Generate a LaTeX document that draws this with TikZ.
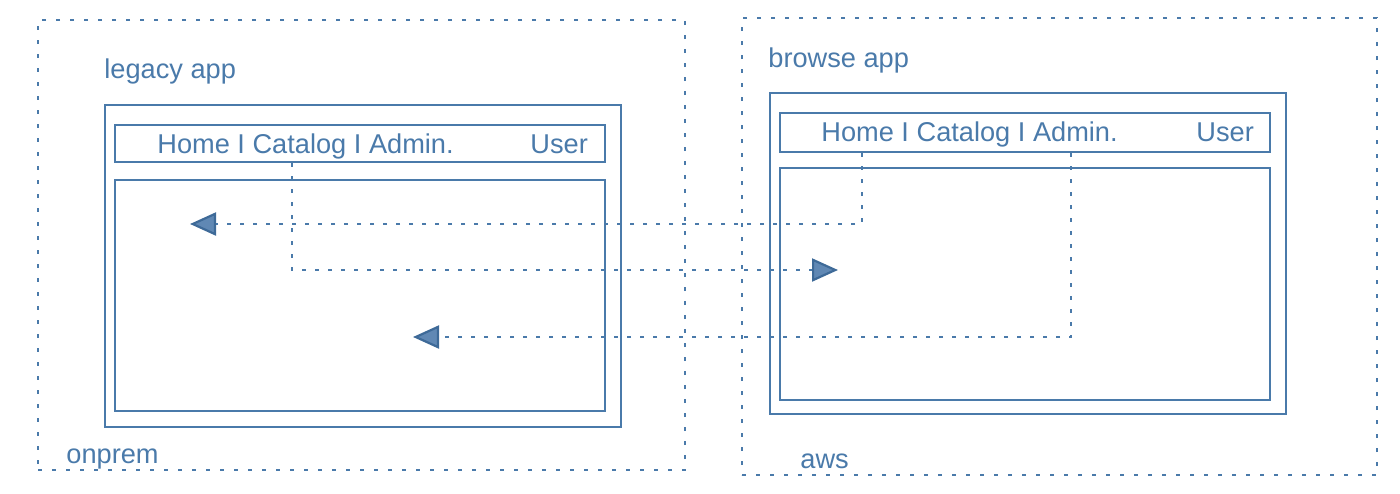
\documentclass[tikz,border=0pt]{standalone}
\usepackage{fontspec}
\setmainfont{Liberation Sans}
\usetikzlibrary{arrows.meta,fit}
\definecolor{wireblue}{RGB}{74,122,170}
\definecolor{tipline}{RGB}{62,106,152}
\definecolor{tipfill}{RGB}{96,136,180}
\tikzset{
        % Texts
        node_text/.style={inner sep=0pt, anchor=base west, text=wireblue, font=\fontsize{13.6}{16}\selectfont},
        % Dotted regions (onprem, aws)
        node_region/.style={draw=wireblue, line width=1.1pt, dash pattern=on 2pt off 5pt, inner sep=0pt},
        % App windows, menu bars, pages
        node_window/.style={draw=wireblue, line width=0.8pt, inner sep=0pt},
        % Links from a menu to a page
        edge_link/.style={draw=wireblue, line width=1.1pt, dash pattern=on 2pt off 4.5pt,
                -{Triangle[length=13pt, width=11.5pt, color=tipline, fill=tipfill]}}
}
\begin{document}
\begin{tikzpicture}[x=0.5pt, y=-0.5pt]
            \useasboundingbox (0,0) rectangle (1400,493);
            % onprem side
            \node[node_region, fit={(38,20) (685,470)}] (onprem_region) {};
            \node[node_window, fit={(105,105) (621,427)}] (legacy_box) {};
            \node[node_window, fit={(115,125) (605,162)}] (legacy_bar) {};
            \node[node_window, fit={(115,180) (605,411)}] (legacy_page) {};
            \node[node_text] (onprem_label) at (66,463) {onprem};
            \node[node_text] (legacy_label) at (104,78) {legacy app};
            \node[node_text] (legacy_menu) at (157,153) {Home I Catalog I Admin.};
            \node[node_text] (legacy_user) at (530,153) {User};
            % aws side
            \node[node_region, fit={(742,18) (1377,475)}] (aws_region) {};
            \node[node_window, fit={(770,93) (1286,414)}] (browse_box) {};
            \node[node_window, fit={(780,113) (1270,152)}] (browse_bar) {};
            \node[node_window, fit={(780,168) (1270,400)}] (browse_page) {};
            \node[node_text] (aws_label) at (800,468) {aws};
            \node[node_text] (browse_label) at (768,67) {browse app};
            \node[node_text] (browse_menu) at (821,141) {Home I Catalog I Admin.};
            \node[node_text] (browse_user) at (1196,141) {User};
            % links
            \coordinate (legacy_catalog) at (292,163);
            \coordinate (browse_home) at (862,153);
            \coordinate (browse_admin) at (1071,153);
            \coordinate (legacy_home_page) at (190,224);
            \coordinate (browse_catalog_page) at (838,270);
            \coordinate (legacy_admin_page) at (413,337);
            \draw[edge_link] (browse_home) |- (legacy_home_page);
            \draw[edge_link] (legacy_catalog) |- (browse_catalog_page);
            \draw[edge_link] (browse_admin) |- (legacy_admin_page);
        \end{tikzpicture}
\end{document}
